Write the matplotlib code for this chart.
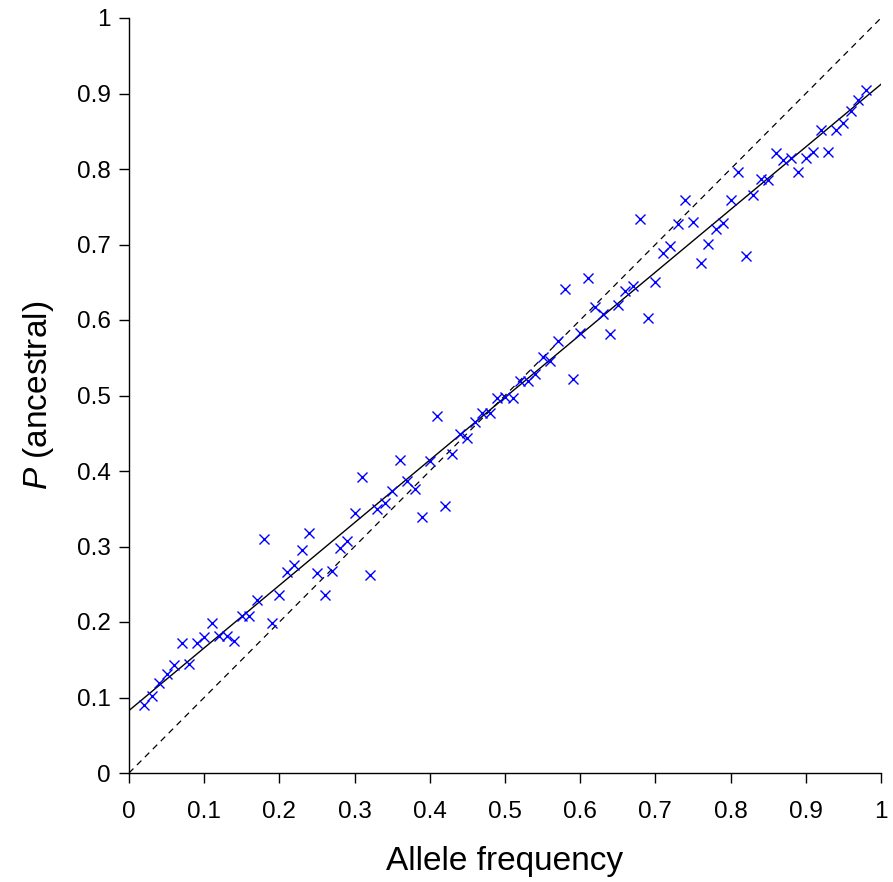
import numpy as np
import matplotlib
matplotlib.use("Agg")
import matplotlib.pyplot as plt

allele_freq = [round(0.02 + 0.01 * i, 2) for i in range(97)]
p_ancestral = [
    0.090, 0.102, 0.119, 0.131, 0.143, 0.172, 0.145, 0.172, 0.180, 0.199,
    0.181, 0.181, 0.175, 0.208, 0.208, 0.229, 0.310, 0.199, 0.236, 0.266,
    0.276, 0.295, 0.318, 0.265, 0.236, 0.268, 0.298, 0.307, 0.344, 0.392,
    0.262, 0.350, 0.358, 0.374, 0.415, 0.387, 0.376, 0.339, 0.413, 0.473,
    0.354, 0.423, 0.449, 0.444, 0.465, 0.477, 0.477, 0.497, 0.498, 0.497,
    0.519, 0.519, 0.528, 0.551, 0.546, 0.572, 0.641, 0.522, 0.583, 0.656,
    0.617, 0.608, 0.581, 0.620, 0.638, 0.645, 0.734, 0.603, 0.650, 0.689,
    0.698, 0.727, 0.759, 0.730, 0.675, 0.701, 0.721, 0.728, 0.759, 0.796,
    0.685, 0.766, 0.787, 0.785, 0.821, 0.812, 0.815, 0.796, 0.815, 0.823,
    0.852, 0.823, 0.852, 0.861, 0.877, 0.891, 0.905,
]
tick_vals = [0, 0.1, 0.2, 0.3, 0.4, 0.5, 0.6, 0.7, 0.8, 0.9, 1]
tick_labels = ["0", "0.1", "0.2", "0.3", "0.4", "0.5", "0.6", "0.7", "0.8", "0.9", "1"]

plt.rcParams['font.family'] = ['Liberation Sans', 'DejaVu Sans']
plt.rcParams['mathtext.fontset'] = 'custom'
plt.rcParams['mathtext.it'] = 'Liberation Sans:italic'
plt.rcParams['mathtext.rm'] = 'Liberation Sans'

fig = plt.figure(figsize=(8.93, 8.82), dpi=100)
ax = fig.add_axes([129/893, 109/882, 752/893, 755/882])

x = np.array(allele_freq)
y = np.array(p_ancestral)
slope, intercept = np.polyfit(x, y, 1)
xl = np.array([0, 1])
ax.plot(xl, xl, color='black', lw=0.9, ls=(0, (5, 4)))
ax.plot(xl, intercept + slope * xl, color='black', lw=1.0)
ax.plot(x, y, ls='none', marker='x', color='blue', markersize=7, mew=1.0)

ax.set_xlim(0, 1)
ax.set_ylim(0, 1)
for s in ['top', 'right']:
    ax.spines[s].set_visible(False)
for s in ['left', 'bottom']:
    ax.spines[s].set_linewidth(1.0)
ax.set_xticks(tick_vals)
ax.set_xticklabels(tick_labels, fontsize=17.5)
ax.set_yticks(tick_vals)
ax.set_yticklabels(tick_labels, fontsize=17.5)
ax.tick_params(direction='out', length=7, width=1.0)
ax.tick_params(axis='x', pad=13)
ax.tick_params(axis='y', pad=6)
ax.set_xlabel("Allele frequency", fontsize=24, labelpad=17)
ax.set_ylabel(r"$\mathit{P}$ (ancestral)", fontsize=24, labelpad=15)

fig.savefig("out.png", dpi=100)
